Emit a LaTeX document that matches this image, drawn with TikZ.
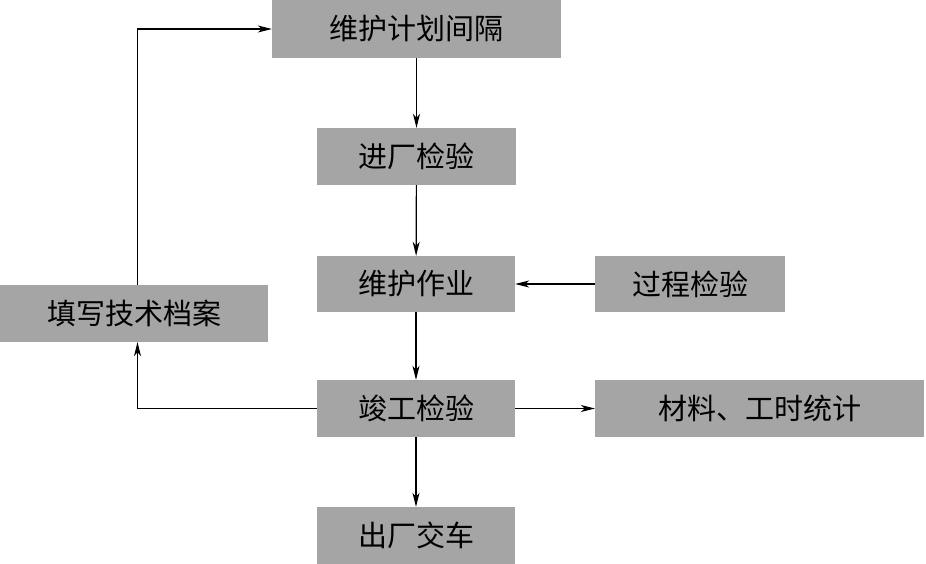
\documentclass[tikz,border=0pt]{standalone}
\usepackage{fontspec}
\newfontfamily\cjk{Noto Sans CJK SC}
\usetikzlibrary{arrows.meta}
\definecolor{boxgray}{RGB}{165,165,165}
\begin{document}
\begin{tikzpicture}[x=1pt,y=-1pt,
  box/.style={fill=boxgray, inner sep=0pt, font=\cjk\fontsize{29}{29}\selectfont},
  arr/.style={-{Stealth[length=14pt,width=7pt,inset=4pt]}, line width=1.2pt}]
\useasboundingbox[fill=white] (0,0) rectangle (926,564);
\node[box, minimum width=289pt, minimum height=58pt] (plan) at (416.5,29) {维护计划间隔};
\node[box, minimum width=199pt, minimum height=57pt] (jc) at (416.5,156.5) {进厂检验};
\node[box, minimum width=198pt, minimum height=56pt] (wh) at (416,284) {维护作业};
\node[box, minimum width=190pt, minimum height=56pt] (gc) at (690,284) {过程检验};
\node[box, minimum width=268pt, minimum height=57pt] (tx) at (134,313.5) {填写技术档案};
\node[box, minimum width=198pt, minimum height=57pt] (jg) at (416,408.5) {竣工检验};
\node[box, minimum width=329pt, minimum height=57pt] (cl) at (759.5,408.5) {材料、工时统计};
\node[box, minimum width=198pt, minimum height=57pt] (cc) at (416,535.5) {出厂交车};
\coordinate (lx) at (137.5,0);
\draw[arr] (plan) -- (jc);
\draw[arr] (jc) -- (wh);
\draw[arr] (gc) -- (wh);
\draw[arr] (wh) -- (jg);
\draw[arr] (jg) -- (cl);
\draw[arr] (jg) -- (cc);
\draw[arr] (jg.west) -| (tx.south -| lx);
\draw[arr] (tx.north -| lx) |- (plan.west);
\end{tikzpicture}
\end{document}
